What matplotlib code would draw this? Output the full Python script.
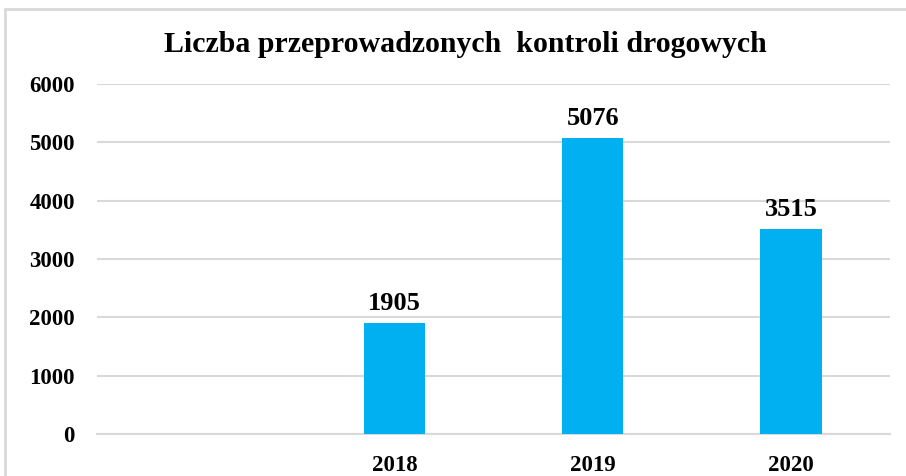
import matplotlib.pyplot as plt
from matplotlib.patches import Rectangle

# dane
lata = ['', '2018', '2019', '2020']
kontrole = [0, 1905, 5076, 3515]
etykiety = ['', '1905', '5076', '3515']

plt.rcParams['font.family'] = ['Liberation Serif', 'DejaVu Serif']

fig = plt.figure(figsize=(9.06, 4.76), dpi=100)
ax = fig.add_axes([97 / 906, 42 / 476, 793 / 906, 350 / 476])

x = range(len(lata))
bars = ax.bar(x, kontrole, width=0.31, color='#00B0F0', zorder=3)

for b, txt in zip(bars, etykiety):
    if txt:
        ax.text(b.get_x() + b.get_width() / 2, b.get_height() + 140, txt,
                ha='center', va='bottom', fontsize=19, fontweight='bold')

ax.set_xlim(-0.5, len(lata) - 0.5)
ax.set_ylim(0, 6000)
ax.set_yticks(range(0, 6001, 1000))
ax.set_xticks(list(x))
ax.set_xticklabels(lata)
ax.tick_params(length=0, labelsize=16.5)
ax.tick_params(axis='x', pad=15)
ax.tick_params(axis='y', pad=16)
for lab in ax.get_xticklabels() + ax.get_yticklabels():
    lab.set_fontweight('bold')
ax.grid(axis='y', color='#d9d9d9', linewidth=1.5, zorder=0)
for s in ['top', 'right', 'left']:
    ax.spines[s].set_visible(False)
ax.spines['bottom'].set_color('#d9d9d9')
ax.spines['bottom'].set_linewidth(1.5)

fig.text(465 / 906, 1 - 44 / 476, 'Liczba przeprowadzonych  kontroli drogowych',
         ha='center', va='center', fontsize=21.5, fontweight='bold')

# ramka wykresu
fig.patches.append(Rectangle((5 / 906, -0.1), 1.2, 1 - 9 / 476 + 0.1,
                             transform=fig.transFigure, fill=False,
                             edgecolor='#d9d9d9', linewidth=2))

fig.savefig('out.png', dpi=100)
